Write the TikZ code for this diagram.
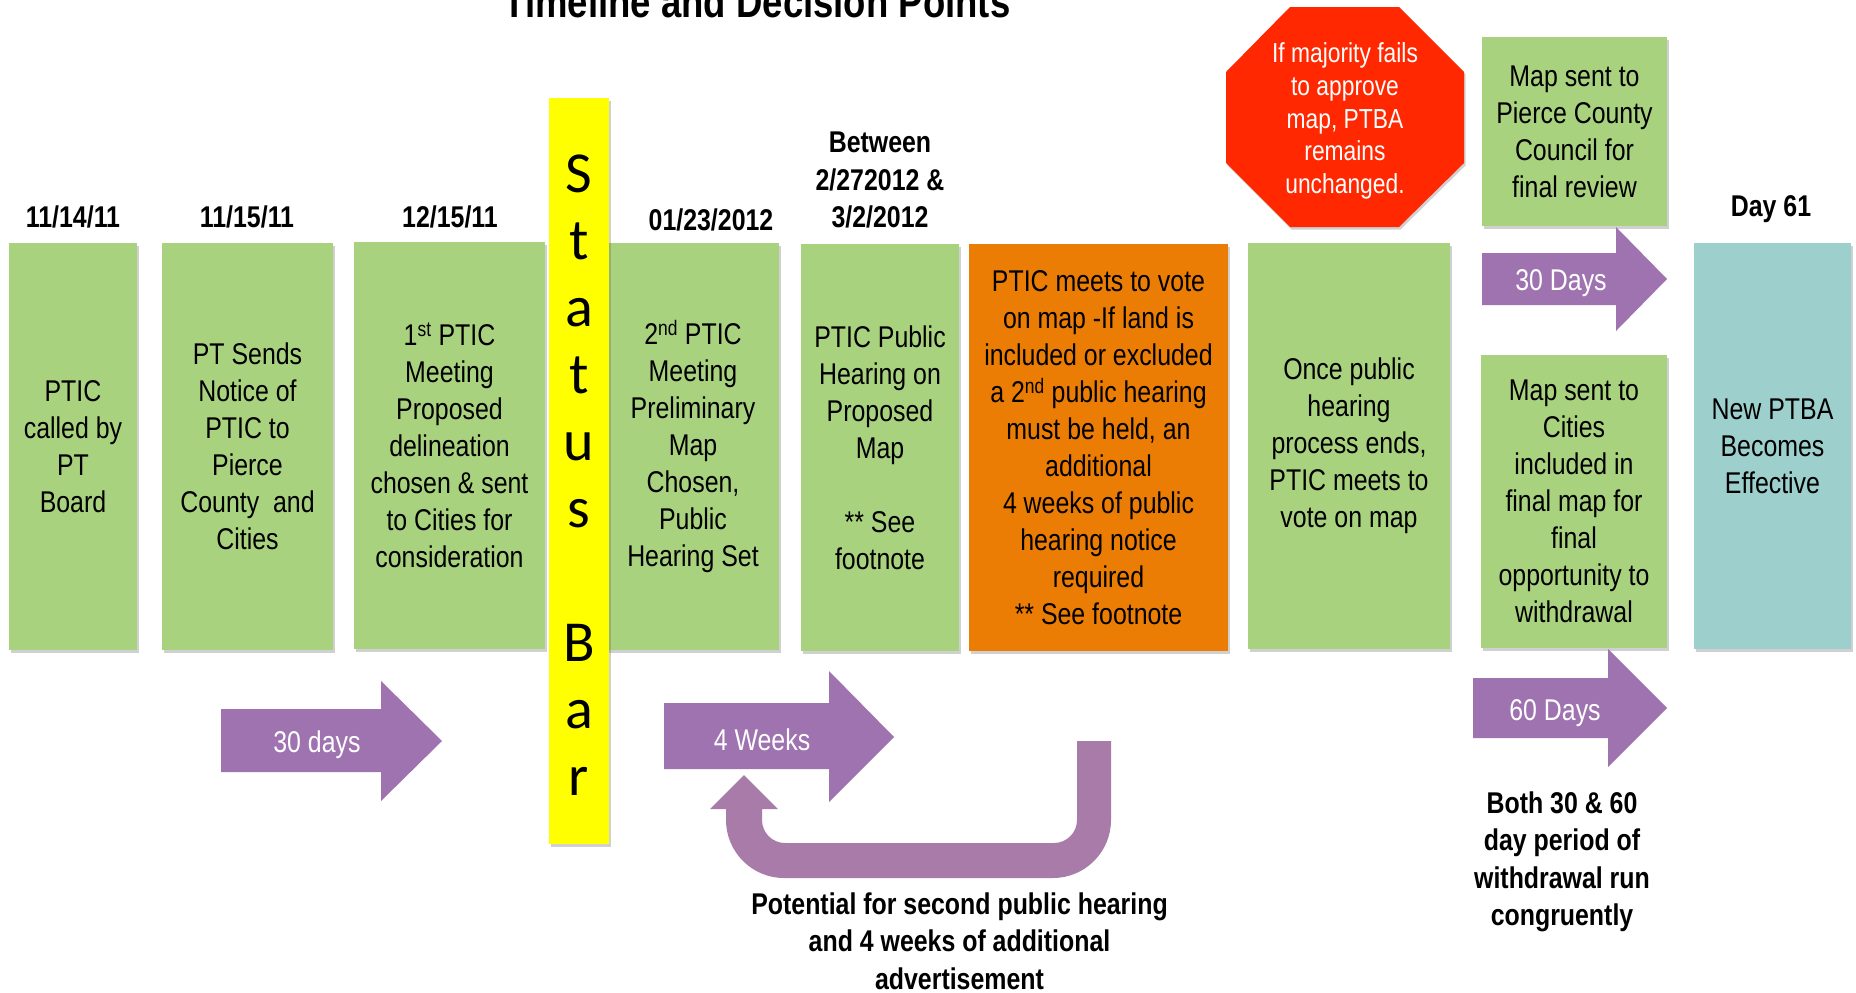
\documentclass[tikz,border=0pt]{standalone}
\usepackage{fontspec}
\setmainfont{Liberation Sans}[FakeStretch=0.83]
\newfontfamily\statusfont{Carlito}
\usetikzlibrary{shadows}
\definecolor{boxgreen}{HTML}{A9D27F}
\definecolor{boxorange}{HTML}{EC7D04}
\definecolor{boxteal}{HTML}{9DCFCC}
\definecolor{octred}{HTML}{FF2800}
\definecolor{arrowpurple}{HTML}{9F72B0}
\definecolor{upurple}{HTML}{A97BA8}
\definecolor{baryellow}{HTML}{FFFF00}
\tikzset{
  shad/.style={drop shadow={shadow xshift=1.5pt,shadow yshift=-2.5pt,fill=black!60,opacity=0.3}},
  box/.style={fill=boxgreen, inner sep=0pt, align=center, shad,
    font=\fontsize{30}{37}\selectfont},
  datelabel/.style={font=\bfseries\fontsize{30}{37.5}\selectfont, anchor=base, inner sep=0pt},
  boldtext/.style={font=\bfseries\fontsize{30}{37.5}\selectfont, align=center, inner sep=0pt},
  blockarrow/.style={fill=arrowpurple},
  arrowtext/.style={text=white, font=\fontsize{30}{36}\selectfont, inner sep=0pt},
}
\begin{document}
\begin{tikzpicture}[x=1pt,y=-1pt]
\useasboundingbox[fill=white] (0,0) rectangle (1856,993);

% title
\node[font=\bfseries\fontsize{44}{50}\selectfont, anchor=base, inner sep=0pt] (title) at (757,17) {Timeline and Decision Points};

% dates
\node[datelabel] (d1) at (73,227) {11/14/11};
\node[datelabel] (d2) at (247,227) {11/15/11};
\node[datelabel] (d3) at (450,227) {12/15/11};
\node[datelabel] (d4) at (711,230) {01/23/2012};
\node[boldtext] (d5) at (880,180) {Between\\2/272012 \&\\3/2/2012};
\node[datelabel] (d6) at (1771,216) {Day 61};

% main boxes
\node[box, minimum width=128pt, minimum height=407pt] (b1) at (73,446.5) {PTIC\\called by\\PT\\Board};
\node[box, minimum width=171pt, minimum height=407pt] (b2) at (247.5,446.5) {PT Sends\\Notice of\\PTIC to\\Pierce\\County~ and\\Cities};
\node[box, minimum width=191pt, minimum height=407pt] (b3) at (449.5,445.5) {1\textsuperscript{st} PTIC\\Meeting\\Proposed\\delineation\\chosen \& sent\\to Cities for\\consideration};
\node[box, minimum width=172pt, minimum height=407pt] (b4) at (693,446.5) {2\textsuperscript{nd} PTIC\\Meeting\\Preliminary\\Map\\Chosen,\\Public\\Hearing Set};
\node[box, minimum width=158pt, minimum height=407pt] (b5) at (880,447.5) {PTIC Public\\Hearing on\\Proposed\\Map\\\mbox{}\\** See\\footnote};
\node[box, fill=boxorange, minimum width=259pt, minimum height=407pt] (b6) at (1098.5,447.5) {PTIC meets to vote\\on map -If land is\\included or excluded\\a 2\textsuperscript{nd} public hearing\\must be held, an\\additional\\4 weeks of public\\hearing notice\\required\\** See footnote};
\node[box, minimum width=202pt, minimum height=406pt] (b7) at (1349,446) {Once public\\hearing\\process ends,\\PTIC meets to\\vote on map};
\node[box, minimum width=185pt, minimum height=189pt] (b8) at (1574.5,131.5) {Map sent to\\Pierce County\\Council for\\final review};
\node[box, minimum width=186pt, minimum height=293pt] (b9) at (1574,501.5) {Map sent to\\Cities\\included in\\final map for\\final\\opportunity to\\withdrawal};
\node[box, fill=boxteal, minimum width=157pt, minimum height=406pt] (b10) at (1772.5,446) {New PTBA\\Becomes\\Effective};

% status bar
\node[fill=baryellow, minimum width=60pt, minimum height=746pt, inner sep=0pt, shad] (sbar) at (579,471) {};
\node[font=\statusfont\fontsize{58}{67}\selectfont, align=center, inner sep=0pt] (sbtext) at (579,475) {S\\t\\a\\t\\u\\s\\\mbox{}\\B\\a\\r};

% stop sign
\path[fill=octred, shad] (1290,7) -- (1399,7) -- (1464,72) -- (1464,163) -- (1399,227) -- (1290,227) -- (1226,163) -- (1226,72) -- cycle;
\node[text=white, align=center, inner sep=0pt, font=\fontsize{27.5}{32.75}\selectfont] (oct) at (1345,121) {If majority fails\\to approve\\map, PTBA\\remains\\unchanged.};

% block arrows
\fill[blockarrow] (221,709) -- (381,709) -- (381,681) -- (442,741) -- (381,801) -- (381,772) -- (221,772) -- cycle;
\node[arrowtext] (t1) at (317,745) {30 days};
\fill[blockarrow] (664,703) -- (829,703) -- (829,671) -- (894,737) -- (829,802) -- (829,769) -- (664,769) -- cycle;
\node[arrowtext] (t2) at (762,740) {4 Weeks};
\fill[blockarrow] (1482,253) -- (1616,253) -- (1616,227) -- (1667,279) -- (1616,331) -- (1616,305) -- (1482,305) -- cycle;
\node[arrowtext] (t3) at (1561,283) {30 Days};
\fill[blockarrow] (1473,678) -- (1608,678) -- (1608,649) -- (1667,708) -- (1608,767) -- (1608,738) -- (1473,738) -- cycle;
\node[arrowtext] (t4) at (1555,713) {60 Days};

% U-turn arrow
\fill[upurple] (1077,741) -- (1077,820) .. controls (1077,832.7) and (1066.7,843) .. (1054,843)
  -- (785,843) .. controls (772.3,843) and (762,832.7) .. (762,820)
  -- (762,809) -- (778,809) -- (744,775) -- (710,809) -- (726,809)
  -- (726,820) .. controls (726,852) and (752,878) .. (784,878)
  -- (1053,878) .. controls (1085,878) and (1111,852) .. (1111,820)
  -- (1111,741) -- cycle;

% bottom texts
\node[boldtext] (pot) at (959.5,941) {Potential for second public hearing\\and 4 weeks of additional\\advertisement};
\node[boldtext] (both) at (1562,862) {Both 30 \& 60\\day period of\\withdrawal run\\congruently};
\end{tikzpicture}
\end{document}
